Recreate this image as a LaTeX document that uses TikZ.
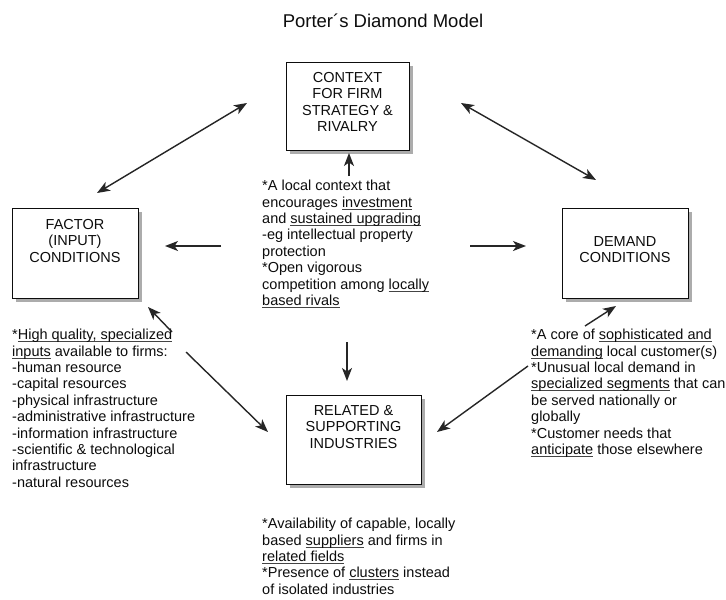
\documentclass[tikz,border=0pt]{standalone}
\usepackage{fontspec}
\setmainfont{Liberation Sans}
\usetikzlibrary{arrows.meta,shadows}
\definecolor{ink}{HTML}{0D0D0D}
\definecolor{ulc}{HTML}{444444}
\definecolor{arr}{HTML}{262626}
\newcommand\myul[1]{\setbox0=\hbox{#1}\rlap{\color{ulc}\rule[-2.4pt]{\wd0}{0.9pt}}\box0\relax}
\begin{document}
\begin{tikzpicture}[x=1pt,y=-1pt,
  boxst/.style={draw=ink, line width=1pt, fill=white, inner sep=0pt,
    general shadow={fill=gray!65, shadow xshift=4pt, shadow yshift=-4pt}},
  boxtext/.style={font=\fontsize{14.5}{16.5}\selectfont, text=ink, align=center, inner sep=0pt, anchor=north},
  bodytext/.style={font=\fontsize{14.5}{16.4}\selectfont, text=ink, align=left, inner sep=0pt, anchor=north west},
  arrowst/.style={draw=arr, line width=1.4pt, -{Stealth[length=13pt,width=10pt,inset=3.5pt]}},
  dblarrow/.style={draw=arr, line width=1.4pt, {Stealth[length=13pt,width=10pt,inset=3.5pt]}-{Stealth[length=13pt,width=10pt,inset=3.5pt]}}
]
\useasboundingbox (0,0) rectangle (726,600);
\fill[white] (0,0) rectangle (726,600);

\node[font=\fontsize{18.5}{20}\selectfont, text=ink, anchor=base] (title) at (383,27) {Porter´s Diamond Model};

% boxes
\node[boxst, minimum width=123pt, minimum height=88pt] (ctx) at (347.5,106) {};
\node[boxst, minimum width=126pt, minimum height=90pt] (fac) at (75,253) {};
\node[boxst, minimum width=126pt, minimum height=90pt] (dem) at (625,253) {};
\node[boxst, minimum width=135pt, minimum height=89pt] (rel) at (353.5,439.5) {};

\node[boxtext] (ctxt) at (347.5,72) {CONTEXT\\FOR FIRM\\STRATEGY \&\\RIVALRY};
\node[boxtext] (fact) at (75,219) {FACTOR\\(INPUT)\\CONDITIONS};
\node[boxtext] (demt) at (625,236) {DEMAND\\CONDITIONS};
\node[boxtext] (relt) at (353.5,405) {RELATED \&\\SUPPORTING\\INDUSTRIES};

% body texts
\node[bodytext] (ctxbody) at (262,180) {*A local context that\\
encourages \myul{investment}\\
and \myul{sustained upgrading}\\
-eg intellectual property\\
protection\\
*Open vigorous\\
competition among \myul{locally}\\
\myul{based rivals}};

\node[bodytext] (facbody) at (12,329) {*\myul{High quality, specialized}\\
\myul{inputs} available to firms:\\
-human resource\\
-capital resources\\
-physical infrastructure\\
-administrative infrastructure\\
-information infrastructure\\
-scientific \& technological\\
infrastructure\\
-natural resources};

\node[bodytext] (dembody) at (531,329) {*A core of \myul{sophisticated and}\\
\myul{demanding} local customer(s)\\
*Unusual local demand in\\
\myul{specialized segments} that can\\
be served nationally or\\
globally\\
*Customer needs that\\
\myul{anticipate} those elsewhere};

\node[bodytext] (relbody) at (262,518) {*Availability of capable, locally\\
based \myul{suppliers} and firms in\\
\myul{related fields}\\
*Presence of \myul{clusters} instead\\
of isolated industries};

% arrow end points
\coordinate (fcA) at (97,193);
\coordinate (fcB) at (247,103);
\coordinate (cdA) at (461,103);
\coordinate (cdB) at (596,180);
\coordinate (lA) at (221,246);
\coordinate (lB) at (165,246);
\coordinate (rA) at (470,246);
\coordinate (rB) at (526,246);
\coordinate (uA) at (349,176);
\coordinate (uB) at (349,153);
\coordinate (dA) at (347,342);
\coordinate (dB) at (347,381);
\coordinate (fsA) at (172,332);
\coordinate (fsB) at (148,307);
\coordinate (frA) at (186,352);
\coordinate (frB) at (268,432);
\coordinate (drA) at (528,366);
\coordinate (drB) at (437,432);
\coordinate (dsA) at (585,326);
\coordinate (dsB) at (616,306);

\draw[dblarrow] (fcA) -- (fcB);
\draw[dblarrow] (cdA) -- (cdB);
\draw[arrowst] (lA) -- (lB);
\draw[arrowst] (rA) -- (rB);
\draw[arrowst] (uA) -- (uB);
\draw[arrowst] (dA) -- (dB);
\draw[arrowst] (fsA) -- (fsB);
\draw[arrowst] (frA) -- (frB);
\draw[arrowst] (drA) -- (drB);
\draw[arrowst] (dsA) -- (dsB);
\end{tikzpicture}
\end{document}
